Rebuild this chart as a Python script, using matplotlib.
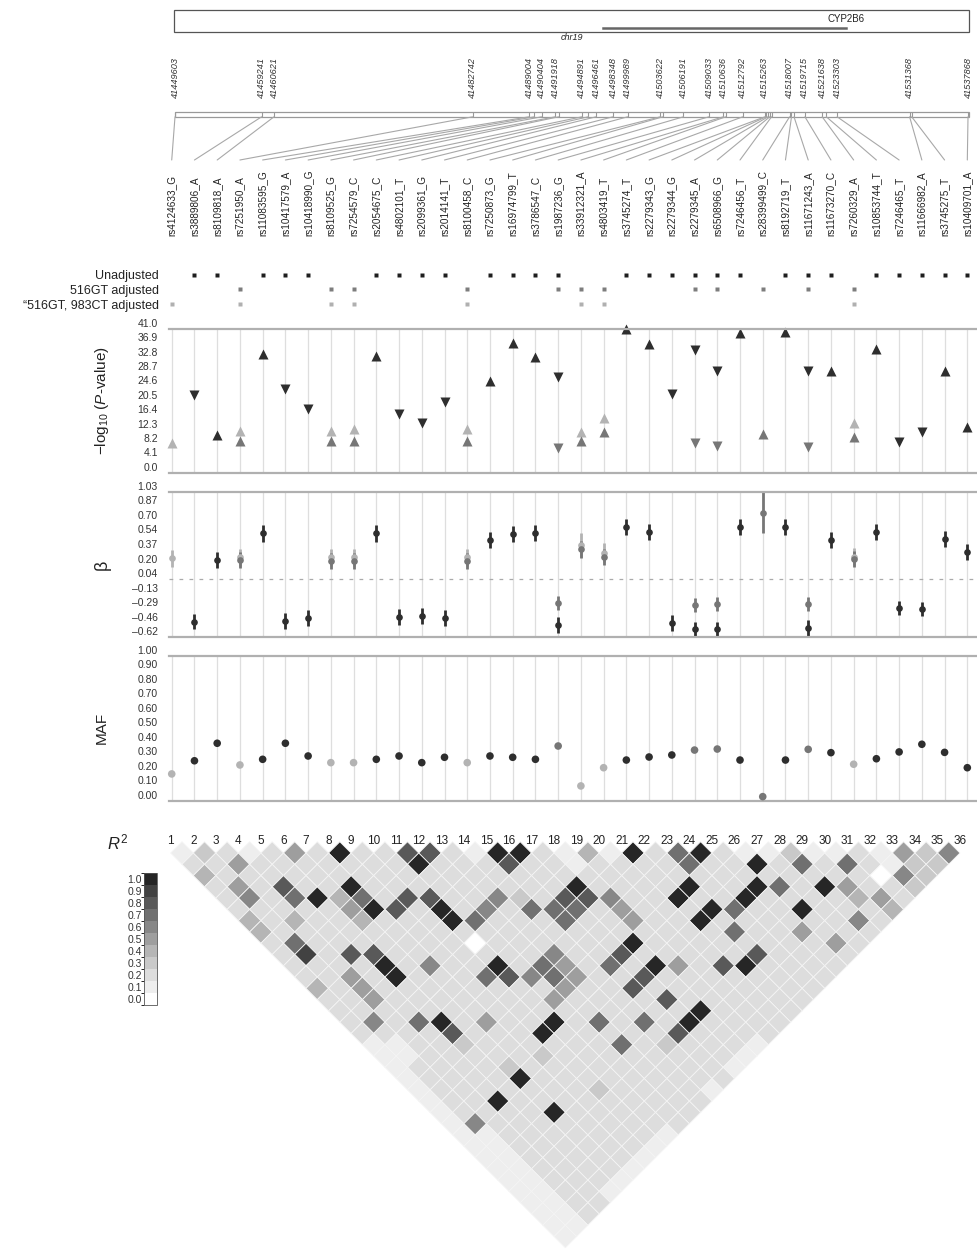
import matplotlib.pyplot as plt
import numpy as np
from matplotlib.patches import Rectangle, ConnectionPatch
from matplotlib.collections import PolyCollection
from matplotlib.colors import ListedColormap, BoundaryNorm
from matplotlib.cm import ScalarMappable

plt.rcParams['font.family'] = ['Liberation Sans', 'DejaVu Sans']
plt.rcParams['mathtext.fontset'] = 'custom'
plt.rcParams['mathtext.rm'] = 'Liberation Sans'
plt.rcParams['mathtext.it'] = 'Liberation Sans:italic'

NA = np.nan

# ---- data -------------------------------------------------------------
snps = ["rs4124633_G", "rs3889806_A", "rs8109818_A", "rs7251950_A", "rs11083595_G",
        "rs10417579_A", "rs10418990_G", "rs8109525_G", "rs7254579_C", "rs2054675_C",
        "rs4802101_T", "rs2099361_G", "rs2014141_T", "rs8100458_C", "rs7250873_G",
        "rs16974799_T", "rs3786547_C", "rs1987236_G", "rs33912321_A", "rs4803419_T",
        "rs3745274_T", "rs2279343_G", "rs2279344_G", "rs2279345_A", "rs6508966_G",
        "rs7246456_T", "rs28399499_C", "rs8192719_T", "rs11671243_A", "rs11673270_C",
        "rs7260329_A", "rs10853744_T", "rs7246465_T", "rs11666982_A", "rs3745275_T",
        "rs10409701_A"]

positions = [41449603, 41459241, 41460621, 41482742, 41489004, 41489600, 41490404,
             41491918, 41492300, 41494891, 41495600, 41496461, 41498348, 41499989,
             41503622, 41503900, 41506191, 41509033, 41510636, 41510900, 41512792,
             41515263, 41515400, 41515600, 41515800, 41516000, 41518007, 41518221,
             41518500, 41519715, 41521638, 41522100, 41523303, 41531368, 41531600,
             41537868]

gene_start, gene_end = 41497204, 41524301

row_names = ["Unadjusted", "516GT adjusted", "\u201c516GT, 983CT adjusted"]

logp_unadj = [NA, 22.2, 10.8, NA, 33.8, 23.9, 18.1, NA, NA, 33.4, 16.7, 14.1, 20.1, NA,
              26.2, 37.1, 32.9, 27.4, NA, NA, 41.0, 36.7, 22.5, 35.0, 29.0, 39.9, NA,
              40.1, 29.1, 29.1, NA, 35.2, 8.7, 11.7, 29.0, 13.0]
logp_516 = [NA, NA, NA, 9.1, NA, NA, NA, 9.0, 9.1, NA, NA, NA, NA, 9.0, NA, NA, NA, 7.0,
            9.0, 11.5, NA, NA, NA, 8.6, 7.6, NA, 11.0, NA, 7.4, NA, 10.3, NA, NA, NA, NA, NA]
logp_983 = [8.4, NA, NA, 12.0, NA, NA, NA, 12.0, 12.4, NA, NA, NA, NA, 12.4, NA, NA, NA,
            NA, 11.7, 15.5, NA, NA, NA, NA, NA, NA, NA, NA, NA, NA, 14.1, NA, NA, NA, NA, NA]

beta_unadj = [NA, -0.449, 0.256, NA, 0.561, -0.437, -0.403, NA, NA, 0.561, -0.392, -0.380,
              -0.403, NA, 0.485, 0.550, 0.561, -0.490, NA, NA, 0.637, 0.573, -0.460, -0.536,
              -0.532, 0.630, NA, 0.630, -0.524, 0.485, NA, 0.580, -0.289, -0.304, 0.493, 0.344]
beta_516 = [NA, NA, NA, 0.256, NA, NA, NA, 0.248, 0.248, NA, NA, NA, NA, 0.248, NA, NA, NA,
            -0.232, 0.379, 0.294, NA, NA, NA, -0.258, -0.250, NA, 0.797, NA, -0.247, NA,
            0.268, NA, NA, NA, NA, NA]
beta_983 = [0.276, NA, NA, 0.287, NA, NA, NA, 0.287, 0.287, NA, NA, NA, NA, 0.287, NA, NA,
            NA, NA, 0.428, 0.340, NA, NA, NA, NA, NA, NA, NA, NA, NA, NA, 0.294, NA, NA, NA,
            NA, NA]
err_unadj = [NA, 0.088, 0.09, NA, 0.095, 0.09, 0.09, NA, NA, 0.095, 0.09, 0.09, 0.09, NA,
             0.09, 0.09, 0.09, 0.09, NA, NA, 0.09, 0.09, 0.09, 0.085, 0.085, 0.09, NA, 0.09,
             0.09, 0.09, NA, 0.09, 0.08, 0.08, 0.09, 0.09]
err_516 = [NA, NA, NA, 0.09, NA, NA, NA, 0.09, 0.09, NA, NA, NA, NA, 0.09, NA, NA, NA, 0.08,
           0.1, 0.09, NA, NA, NA, 0.08, 0.08, NA, 0.236, NA, 0.08, NA, 0.09, NA, NA, NA, NA, NA]
err_983 = [0.1, NA, NA, 0.1, NA, NA, NA, 0.1, 0.1, NA, NA, NA, NA, 0.1, NA, NA, NA, NA, 0.14,
           0.11, NA, NA, NA, NA, NA, NA, NA, NA, NA, NA, 0.1, NA, NA, NA, NA, NA]

maf = [0.185, 0.276, 0.397, 0.247, 0.286, 0.397, 0.309, 0.263, 0.263, 0.286, 0.309, 0.263,
       0.300, 0.263, 0.309, 0.300, 0.286, 0.378, 0.102, 0.228, 0.281, 0.302, 0.316, 0.350,
       0.357, 0.281, 0.028, 0.281, 0.355, 0.332, 0.252, 0.290, 0.337, 0.390, 0.334, 0.228]

logp_ticks = [0.0, 4.1, 8.2, 12.3, 16.4, 20.5, 24.6, 28.7, 32.8, 36.9, 41.0]
beta_ticks = [-0.62, -0.46, -0.29, -0.13, 0.04, 0.20, 0.37, 0.54, 0.70, 0.87, 1.03]
maf_ticks = [0.0, 0.1, 0.2, 0.3, 0.4, 0.5, 0.6, 0.7, 0.8, 0.9, 1.0]

# pairwise R^2, one string per row of the triangle (distance d = j - i),
# characters are tenths: '0'..'9', 'X' = 1.0
r2_rows = [
    "1321252X228821XX2141X27X21131121536",
    "2252222222X22282212222722X27272133",
    "422222222222222222222222222222063",
    "252822X222222222X2222X22X72X5223",
    "2627X472882263288622X22X2222452",
    "222225X82X26277725222X722X2224",
    "424224222X7222722522X22222262",
    "4222222222222222222227225222",
    "2722222220222222X2222222252",
    "29288222222262282222282222",
    "2222X2622X275272X528X2222",
    "2252X2227867522822222222",
    "42522222222522822222222",
    "2252222222522228222222",
    "2222222222222222X2222",
    "2627X2522X27272X2222",
    "22228222X2222282222",
    "112232222227232221",
    "11222223222222221",
    "1222232222222221",
    "12222X222222222",
    "12222222322221",
    "122X222222222",
    "12222X222222",
    "16222222222",
    "1122222221",
    "112222221",
    "11222221",
    "1122221",
    "112221",
    "11221",
    "1122",
    "112",
    "11",
    "1",
]

# grey value of each R^2 level 0.0 .. 1.0
r2_greys = [1.0, 0.935, 0.865, 0.79, 0.71, 0.62, 0.53, 0.44, 0.35, 0.26, 0.15]

# ---- layout helpers -----------------------------------------------------
W, H = 978, 1250
fig = plt.figure(figsize=(W / 100, H / 100), dpi=100)


def add_ax(x0, y0, x1, y1):
    return fig.add_axes([x0 / W, 1 - y1 / H, (x1 - x0) / W, (y1 - y0) / H])


DARK, GREY, LIGHT = '#2e2e2e', '#767676', '#b3b3b3'
LINE = '#a8a8a8'
n = len(snps)
cols = np.arange(n)
col_lim = (-0.12, 35.47)

# ---- genomic track ------------------------------------------------------
ax_trk = add_ax(175, 0, 969, 160)
ax_trk.set_xlim(positions[0], positions[-1] + 110)
ax_trk.set_ylim(160, 0)
ax_trk.axis('off')
ax_trk.add_patch(Rectangle((positions[0] - 100, 10), positions[-1] - positions[0] + 200, 21.7,
                           fill=False, ec='#555555', lw=0.9, clip_on=False))
ax_trk.plot([gene_start, gene_end], [27.6, 27.6], color='#666666', lw=1.8)
ax_trk.text(gene_end, 19, "CYP2B6", ha='center', va='center', fontsize=7, color='#222222')
ax_trk.text((positions[0] + positions[-1]) / 2, 37.5, "chr19", ha='center', va='center',
            fontsize=6.5, style='italic', color='#222222')

last = None
for p in positions:
    if last is None or p - last >= 1300:
        ax_trk.text(p, 98, str(p), rotation=90, ha='center', va='bottom', fontsize=6.6,
                    style='italic', color='#333333')
        last = p
ax_trk.add_patch(Rectangle((positions[0], 111.6), positions[-1] - positions[0] + 100, 5.2,
                           fill=False, ec='#999999', lw=0.9, clip_on=False))
ax_trk.vlines(positions, 111.6, 116.8, color='#999999', lw=0.8)

# ---- SNP labels and analysis rows ----------------------------------------
ax_lab = add_ax(169, 160, 978, 312)
ax_lab.set_xlim(*col_lim)
ax_lab.set_ylim(312, 160)
for s in ax_lab.spines.values():
    s.set_visible(False)
ax_lab.set_xticks([])
row_y = [275, 289.3, 304]
ax_lab.set_yticks(row_y)
ax_lab.set_yticklabels(row_names, fontsize=9, color='#222222')
ax_lab.tick_params(axis='y', length=0, pad=7.2)

for k, name in enumerate(snps):
    ax_lab.text(k, 236, name, rotation=90, ha='center', va='bottom', fontsize=7.2,
                color='#222222')
    con = ConnectionPatch(xyA=(positions[k], 116.8), coordsA=ax_trk.transData,
                          xyB=(k, 160), coordsB=ax_lab.transData,
                          color=LINE, lw=0.8)
    fig.add_artist(con)

for series, yy, c in [(logp_unadj, row_y[0], '#1e1e1e'), (logp_516, row_y[1], '#7d7d7d'),
                      (logp_983, row_y[2], '#b0b0b0')]:
    v = np.array(series)
    ax_lab.plot(cols[~np.isnan(v)], [yy] * int((~np.isnan(v)).sum()), 's', ms=3.4,
                color=c, mec='none')


def style_panel(ax, ticks, lim, fmt):
    ax.set_xlim(*col_lim)
    ax.set_ylim(*lim)
    ax.set_xticks(cols)
    ax.grid(axis='x', color='#dedede', lw=0.9)
    ax.tick_params(axis='x', length=0, labelbottom=False)
    ax.set_yticks(ticks)
    ax.set_yticklabels([(fmt % t).replace('-', '\u2013') for t in ticks], fontsize=7.5,
                       color='#333333', va='bottom')
    ax.tick_params(axis='y', length=0, pad=8)
    for side in ('left', 'right'):
        ax.spines[side].set_visible(False)
    for side in ('top', 'bottom'):
        ax.spines[side].set_color('#b0b0b0')
        ax.spines[side].set_linewidth(1.6)


# ---- -log10 P panel -----------------------------------------------------
ax_p = add_ax(169, 329, 978, 472.7)
style_panel(ax_p, logp_ticks, (0, 41.0), '%.1f')
for lp, bt, c in [(logp_983, beta_983, LIGHT), (logp_516, beta_516, GREY),
                  (logp_unadj, beta_unadj, DARK)]:
    lp = np.array(lp)
    bt = np.array(bt)
    up = ~np.isnan(lp) & (bt > 0)
    dn = ~np.isnan(lp) & (bt < 0)
    ax_p.plot(cols[up], lp[up], '^', ms=7, color=c, mec='none', clip_on=False)
    ax_p.plot(cols[dn], lp[dn], 'v', ms=7, color=c, mec='none', clip_on=False)
ax_p.text(-0.083, 0.5, r'$-$log$_{10}$ ($P$-value)', transform=ax_p.transAxes,
          rotation=90, ha='center', va='center', fontsize=11, color='#222222')

# ---- beta panel -----------------------------------------------------------
ax_b = add_ax(169, 492.3, 978, 636.7)
style_panel(ax_b, beta_ticks, (-0.62, 1.03), '%.2f')
ax_b.axhline(beta_ticks[4], color='#aaaaaa', lw=0.9, ls=(0, (3, 5)))
for bt, er, c in [(beta_983, err_983, LIGHT), (beta_516, err_516, GREY),
                  (beta_unadj, err_unadj, DARK)]:
    bt = np.array(bt)
    er = np.array(er)
    ok = ~np.isnan(bt)
    ax_b.errorbar(cols[ok], bt[ok], yerr=er[ok], fmt='o', ms=4.8, color=c, mec='none',
                  elinewidth=2.0, capsize=0)
ax_b.text(-0.083, 0.5, '\u03b2', transform=ax_b.transAxes, rotation=90, ha='center',
          va='center', fontsize=13, color='#222222')

# ---- MAF panel ------------------------------------------------------------
ax_m = add_ax(169, 656, 978, 800.7)
style_panel(ax_m, maf_ticks, (0, 1.0), '%.2f')
maf_col = []
for k in cols:
    if not np.isnan(beta_983[k]):
        maf_col.append(LIGHT)
    elif not np.isnan(beta_516[k]):
        maf_col.append(GREY)
    else:
        maf_col.append(DARK)
ax_m.scatter(cols, maf, s=30, c=maf_col, edgecolors='none', zorder=3, clip_on=False)
ax_m.text(-0.083, 0.5, 'MAF', transform=ax_m.transAxes, rotation=90, ha='center',
          va='center', fontsize=11, color='#222222')

# ---- LD heatmap -----------------------------------------------------------
ax_ld = add_ax(100, 825, 978, 1250)
ax_ld.set_xlim(-2.135, 36.80)
ax_ld.set_ylim(-18.10, 0.743)
ax_ld.axis('off')

levels = "0123456789X"
cells, vals = [], []
for d, row in enumerate(r2_rows, start=1):
    for i, ch in enumerate(row, start=1):
        cx, cy = i + d / 2, -d / 2
        cells.append([(cx - 0.5, cy), (cx, cy + 0.5), (cx + 0.5, cy), (cx, cy - 0.5)])
        vals.append(levels.index(ch) / 10)

cmap = ListedColormap([str(g) for g in r2_greys])
norm = BoundaryNorm(np.linspace(-0.05, 1.05, 12), cmap.N)
pc = PolyCollection(cells, array=np.array(vals), cmap=cmap, norm=norm,
                    edgecolors='#f4f4f4', linewidths=0.6)
ax_ld.add_collection(pc)
for k in range(1, n + 1):
    ax_ld.text(k, 0.02, str(k), ha='center', va='center', fontsize=8.5, color='#222222')

fig.text(118 / W, 1 - 842 / H, r'$R^2$', ha='center', va='center', fontsize=12,
         color='#222222')

cax = add_ax(144, 872.7, 156.7, 1005)
cb = fig.colorbar(ScalarMappable(norm=norm, cmap=cmap), cax=cax,
                  ticks=np.linspace(0, 1, 11), format='%.1f')
cax.yaxis.set_ticks_position('left')
cax.tick_params(length=0, pad=1.5, labelsize=7.5, colors='#333333')
cb.outline.set_edgecolor('#555555')
cb.outline.set_linewidth(0.6)

fig.savefig('out.png', dpi=100)
